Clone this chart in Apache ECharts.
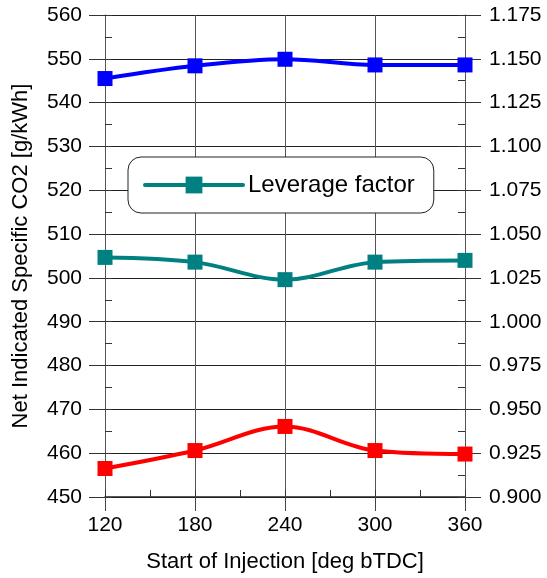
<!DOCTYPE html>
<html><head><meta charset="utf-8">
<script src="https://cdn.jsdelivr.net/npm/echarts@6/dist/echarts.min.js"></script>
<style>html,body{margin:0;padding:0;background:#fff}#c{width:547px;height:578px}</style>
</head><body><div id="c"></div>
<script>
const injection = [120, 180, 240, 300, 360];
const co2Blue = [545.5, 548.4, 549.9, 548.6, 548.6];
const co2Red = [456.5, 460.6, 466.1, 460.6, 459.8];
const leverage = [1.0367, 1.0340, 1.0240, 1.0340, 1.0350];
const leftTicks = [450, 560, 10];
const rightTicks = [0.900, 1.175, 0.025];
const xTicks = [120, 360, 60];

const font = '"Liberation Sans", Arial, sans-serif';
const pair = (xs, ys) => xs.map((x, i) => [x, ys[i]]);

const chart = echarts.init(document.getElementById('c'), null, {renderer: 'canvas'});
const lineSeries = (name, data, color, yIdx) => ({
  name, type: 'line', xAxisIndex: 0, yAxisIndex: yIdx, data,
  smooth: 0.35, symbol: 'rect', symbolSize: 15,
  lineStyle: {color, width: 4, cap: 'round'}, itemStyle: {color}, z: 5
});
chart.setOption({
  animation: false,
  grid: {left: 105, right: 82, top: 15, bottom: 80, containLabel: false},
  legend: {
    data: ['Leverage factor'], left: 128, top: 157,
    padding: [16, 19, 16, 15], itemWidth: 98, itemHeight: 21, itemGap: 8,
    lineStyle: {width: 4, cap: 'round'},
    backgroundColor: '#fff', borderColor: '#222', borderWidth: 1, borderRadius: 13,
    textStyle: {fontFamily: font, fontSize: 24, color: '#000'}
  },
  xAxis: [{
    type: 'value', min: xTicks[0], max: xTicks[1], interval: xTicks[2],
    name: 'Start of Injection [deg bTDC]', nameLocation: 'middle', nameGap: 54,
    nameTextStyle: {fontFamily: font, fontSize: 22, color: '#000'},
    axisLine: {show: true, onZero: false, lineStyle: {color: '#222', width: 1.5}},
    axisTick: {show: true, length: 14, lineStyle: {color: '#444'}},
    axisLabel: {fontFamily: font, fontSize: 21, color: '#000', margin: 18},
    splitLine: {show: true, lineStyle: {color: '#555', width: 1}}
  }, {
    type: 'value', min: xTicks[0], max: xTicks[1], interval: xTicks[2] / 2, position: 'bottom',
    axisLine: {show: false}, axisLabel: {show: false}, splitLine: {show: false},
    axisTick: {show: true, inside: true, length: 7, lineStyle: {color: '#333'}}
  }],
  yAxis: [{
    type: 'value', min: leftTicks[0], max: leftTicks[1], interval: leftTicks[2], position: 'left',
    name: 'Net Indicated Specific CO2 [g/kWh]', nameLocation: 'middle', nameGap: 73,
    nameTextStyle: {fontFamily: font, fontSize: 22, color: '#000'},
    axisLine: {show: true, onZero: false, lineStyle: {color: '#555'}},
    axisTick: {show: true, length: 16, lineStyle: {color: '#333'}},
    axisLabel: {fontFamily: font, fontSize: 21, color: '#000', margin: 23},
    splitLine: {show: true, lineStyle: {color: '#222', width: 1}}
  }, {
    type: 'value', min: rightTicks[0], max: rightTicks[1], interval: rightTicks[2], position: 'right',
    axisLine: {show: true, onZero: false, lineStyle: {color: '#555'}},
    axisTick: {show: true, length: 16, lineStyle: {color: '#333'}},
    axisLabel: {fontFamily: font, fontSize: 21, color: '#000', margin: 24, formatter: v => v.toFixed(3)},
    splitLine: {show: false}
  }, {
    type: 'value', min: leftTicks[0], max: leftTicks[1], interval: leftTicks[2] / 2, position: 'left',
    axisLine: {show: false}, axisLabel: {show: false}, splitLine: {show: false},
    axisTick: {show: true, inside: true, length: 7, lineStyle: {color: '#333'}}
  }, {
    type: 'value', min: leftTicks[0], max: leftTicks[1], interval: leftTicks[2] / 2, position: 'right',
    axisLine: {show: false}, axisLabel: {show: false}, splitLine: {show: false},
    axisTick: {show: true, inside: true, length: 7, lineStyle: {color: '#333'}}
  }],
  series: [
    lineSeries('CO2 A', pair(injection, co2Blue), '#0000ff', 0),
    lineSeries('Leverage factor', pair(injection, leverage), '#008080', 1),
    lineSeries('CO2 B', pair(injection, co2Red), '#ff0000', 0)
  ]
});
</script></body></html>
